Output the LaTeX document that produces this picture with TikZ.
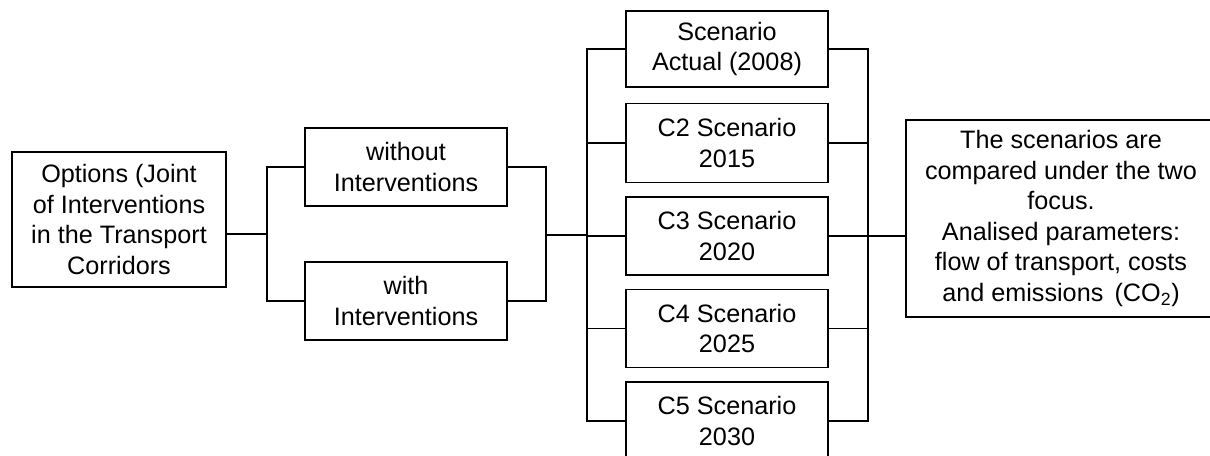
\documentclass[tikz,border=0pt]{standalone}
\usepackage{fontspec}
\setmainfont{Liberation Sans}
\begin{document}
\begin{tikzpicture}[x=0.75pt,y=-0.75pt,
  every node/.style={font=\fontsize{18.9}{22.9}\selectfont},
  box/.style={draw=black,line width=1.3pt,rectangle,inner sep=0pt,align=center},
  conn/.style={draw=black,line width=1.3pt}]
\useasboundingbox (0,0) rectangle (1210,455);
% boxes
\node[box,minimum width=160.5pt,minimum height=101.25pt] (opt) at (119,219.5) {Options (Joint\\of Interventions\\in the Transport\\Corridors};
\node[box,minimum width=151.5pt,minimum height=58.5pt] (wo) at (406,167) {without\\Interventions};
\node[box,minimum width=151.5pt,minimum height=58.5pt] (wi) at (406,301) {with\\Interventions};
\node[box,minimum width=151.5pt,minimum height=57pt] (s1) at (727,49) {Scenario\\Actual (2008)};
\node[box,minimum width=151.5pt,minimum height=59.25pt] (s2) at (727,143) {C2 Scenario\\2015};
\node[box,minimum width=151.5pt,minimum height=58.5pt] (s3) at (727,236) {C3 Scenario\\2020};
\node[box,minimum width=151.5pt,minimum height=58.5pt] (s4) at (727,328.5) {C4 Scenario\\2025};
\node[box,minimum width=151.5pt,minimum height=58.5pt] (s5) at (727,421) {C5 Scenario\\2030};
\node[box,draw=none,minimum width=231pt,minimum height=146.25pt] (res) at (1061,218.5) {The scenarios are\\compared under the two\\focus.\\Analised parameters:\\flow of transport, costs\\and emissions\ \,(CO\textsubscript{2})};
% right box is cut by the picture edge: no right side
\draw[conn] (res.north east) -- (res.north west) -- (res.south west) -- (res.south east);
% junction coordinates
\coordinate (b1) at (267,234);
\coordinate (b2) at (546,235);
\coordinate (b3) at (587,235);
\coordinate (b4) at (868,236);
% connectors
\draw[conn] (opt.east |- b1) -- (b1);
\draw[conn] (wo.west) -| (b1) |- (wi.west);
\draw[conn] (wo.east) -| (b2) |- (wi.east);
\draw[conn] (b2) -- (b3);
\draw[conn] (s1.west) -| (b3) |- (s5.west);
\draw[conn] (s2.west) -- (s2.west -| b3);
\draw[conn] (s3.west) -- (s3.west -| b3);
\draw[conn] (s4.west) -- (s4.west -| b3);
\draw[conn] (s1.east) -| (b4) |- (s5.east);
\draw[conn] (s2.east) -- (s2.east -| b4);
\draw[conn] (s3.east) -- (s3.east -| b4);
\draw[conn] (s4.east) -- (s4.east -| b4);
\draw[conn] (b4) -- (res.west |- b4);
\end{tikzpicture}
\end{document}
